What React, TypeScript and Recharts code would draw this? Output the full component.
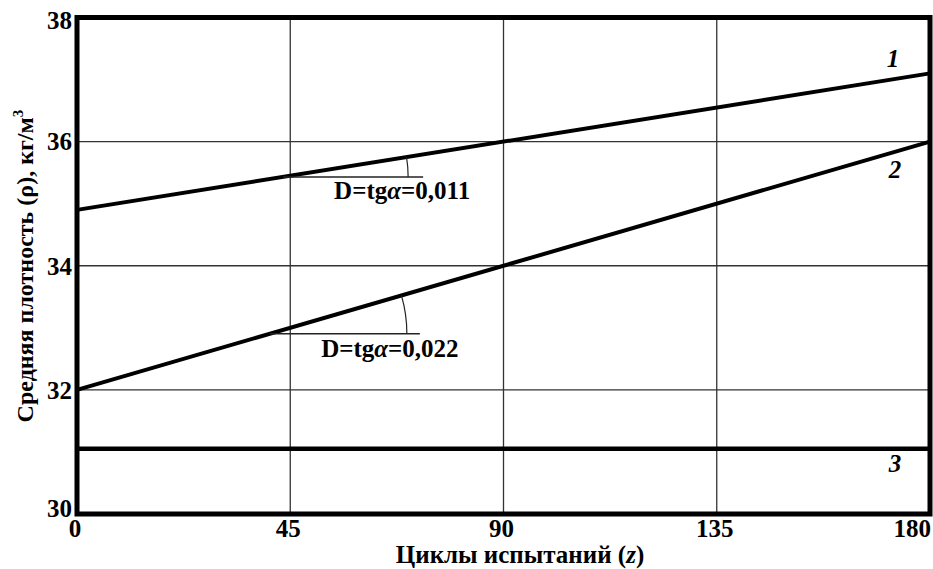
import React from 'react';
import { LineChart, Line, XAxis, YAxis, CartesianGrid, ReferenceArea, ReferenceDot } from 'recharts';

// cycles of testing (z) and average density (ρ), kg/m³
const cycles = [0, 180];
const line1 = [34.9, 37.1];
const line2 = [32.0, 36.0];
const line3 = [31.05, 31.05];

const xTicks = [0, 45, 90, 135, 180];
const yTicks = [30, 32, 34, 36, 38];

const seriesNames = ['1', '2', '3'];
const slopeTexts = ['D=tgα=0,011', 'D=tgα=0,022'];

const data = cycles.map((z, i) => ({ z, s1: line1[i], s2: line2[i], s3: line3[i] }));

const W = 933;
const H = 569;
const margin = { top: 17.5, right: 3, bottom: 25, left: 5 };
const Y_AXIS_W = 72;
const X_AXIS_H = 30;
const plotW = W - margin.left - margin.right - Y_AXIS_W;
const plotH = H - margin.top - margin.bottom - X_AXIS_H;
const pxPerX = plotW / 180;
const pxPerY = plotH / 8;

const txt: React.CSSProperties = { fontFamily: 'Liberation Serif', fontWeight: 'bold', fontSize: 25 };

// angle of a line on screen, in radians
const screenAngle = (ys: number[]) =>
    Math.atan(((ys[1] - ys[0]) * pxPerY) / ((cycles[1] - cycles[0]) * pxPerX));

const YTick = (props: any) => {
    const { x, y, payload } = props;
    let shift = 0;
    if (payload.value === 38) shift = 3;
    if (payload.value === 30) shift = -6;
    return (
        <text x={x} y={y + shift} dy="0.35em" textAnchor="end" style={txt} fill="#000">
            {payload.value}
        </text>
    );
};

const XTick = (props: any) => {
    const { x, y, payload } = props;
    const last = payload.value === 180;
    return (
        <text x={last ? x + 1 : x - 2} y={y + 23} textAnchor={last ? 'end' : 'middle'} style={txt} fill="#000">
            {payload.value}
        </text>
    );
};

// horizontal reference + angle arc + slope text
const slopeMark = (label: string, angle: number, len: number, r: number, tdx: number, tdy: number) => (props: any) => {
    const { cx, cy } = props;
    const ex = cx + r * Math.cos(angle);
    const ey = cy - r * Math.sin(angle);
    const [pre, post] = label.split('α');
    return (
        <g>
            <line x1={cx} y1={cy} x2={cx + len} y2={cy} stroke="#222" strokeWidth={1.5} />
            <path d={`M ${cx + r} ${cy} A ${r} ${r} 0 0 0 ${ex} ${ey}`} fill="none" stroke="#222" strokeWidth={1.2} />
            <text x={cx + tdx} y={cy + tdy} textAnchor="middle" style={txt} fill="#000">
                {pre}
                <tspan style={{ fontStyle: 'italic' }}>α</tspan>
                {post}
            </text>
        </g>
    );
};

const nameMark = (label: string, dx: number, dy: number) => (props: any) => {
    const { cx, cy } = props;
    return (
        <text x={cx + dx} y={cy + dy} textAnchor="middle" style={{ ...txt, fontStyle: 'italic' }} fill="#000">
            {label}
        </text>
    );
};

export default function App() {
    return (
        <div style={{ position: 'absolute', left: 0, top: 0, width: W, height: H, background: '#fff' }}>
            <LineChart width={W} height={H} data={data} margin={margin}>
                <CartesianGrid stroke="#333" strokeWidth={1.3} />
                <XAxis
                    dataKey="z"
                    type="number"
                    domain={[0, 180]}
                    ticks={xTicks}
                    height={X_AXIS_H}
                    axisLine={false}
                    tickLine={false}
                    tickSize={0}
                    tickMargin={0}
                    tick={XTick}
                    interval={0}
                />
                <YAxis
                    type="number"
                    domain={[30, 38]}
                    ticks={yTicks}
                    width={Y_AXIS_W}
                    axisLine={false}
                    tickLine={false}
                    tickSize={0}
                    tickMargin={5}
                    tick={YTick}
                    interval={0}
                />
                <ReferenceArea x1={0} x2={180} y1={30} y2={38} fill="none" stroke="#000" strokeWidth={5} ifOverflow="visible" />
                <Line type="linear" dataKey="s1" stroke="#000" strokeWidth={4} dot={false} isAnimationActive={false} />
                <Line type="linear" dataKey="s2" stroke="#000" strokeWidth={4} dot={false} isAnimationActive={false} />
                <Line type="linear" dataKey="s3" stroke="#000" strokeWidth={4.5} dot={false} isAnimationActive={false} />
                <ReferenceDot x={43.5} y={35.43} ifOverflow="visible" shape={slopeMark(slopeTexts[0], screenAngle(line1), 140, 125, 119, 22)} />
                <ReferenceDot x={40.7} y={32.905} ifOverflow="visible" shape={slopeMark(slopeTexts[1], screenAngle(line2), 150, 137, 120, 23)} />
                <ReferenceDot x={180} y={line1[1]} ifOverflow="visible" shape={nameMark(seriesNames[0], -37, -6)} />
                <ReferenceDot x={180} y={line2[1]} ifOverflow="visible" shape={nameMark(seriesNames[1], -35, 36)} />
                <ReferenceDot x={180} y={line3[1]} ifOverflow="visible" shape={nameMark(seriesNames[2], -35, 23)} />
            </LineChart>
            <svg width={W} height={H} style={{ position: 'absolute', left: 0, top: 0, pointerEvents: 'none' }}>
                <text x={520} y={563} textAnchor="middle" style={txt} fill="#000">
                    Циклы испытаний (<tspan style={{ fontStyle: 'italic' }}>z</tspan>)
                </text>
                <text x={33} y={266} transform="rotate(-90 33 266)" textAnchor="middle" style={{ ...txt, fontSize: 24 }} fill="#000">
                    Средняя плотность (ρ), кг/м<tspan style={{ fontSize: 15 }} dy={-10}>3</tspan>
                </text>
            </svg>
        </div>
    );
}
